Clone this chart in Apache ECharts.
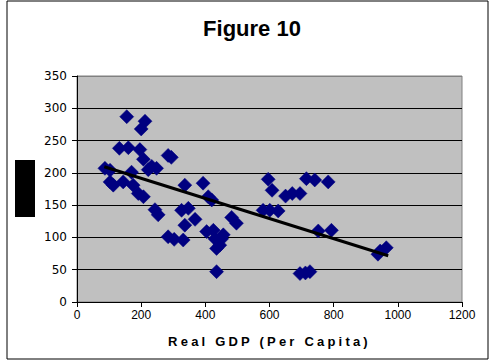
<!DOCTYPE html>
<html>
<head>
<meta charset="utf-8">
<script src="https://cdn.jsdelivr.net/npm/echarts@6/dist/echarts.min.js"></script>
<style>
  html, body { margin: 0; padding: 0; background: #ffffff; }
  #chart { width: 492px; height: 362px; }
</style>
</head>
<body>
<div id="chart"></div>
<script>
// Real GDP per capita (x) against the second indicator (y)
var gdpPerCapita = [
  87, 103, 113, 103, 144, 175, 170, 155, 212, 200,
  132, 160, 196, 207, 222, 248, 233, 191, 207, 243,
  253, 284, 294, 284, 303, 331, 336, 326, 347, 336,
  368, 393, 409, 420, 404, 425, 430, 451, 456, 445,
  435, 435, 482, 497, 596, 608, 580, 601, 627, 650,
  671, 695, 715, 741, 783, 752, 793, 695, 712, 726,
  938, 945, 964
];
var indicator = [
  207, 204, 181, 186, 186, 181, 201, 287, 280, 268,
  238, 239, 236, 221, 205, 207, 210, 168, 163, 143,
  135, 227, 224, 101, 97, 96, 181, 142, 145, 119,
  128, 184, 163, 158, 109, 111, 98, 98, 104, 88,
  83, 47, 131, 122, 190, 173, 142, 142, 141, 164,
  168, 168, 191, 189, 186, 110, 111, 44, 45, 47,
  74, 79, 84
];
// Linear trend line end points
var trendX = [85, 970];
var trendY = [209.5, 71.7];

var xTicks = [0, 200, 400, 600, 800, 1000, 1200];
var yTicks = [0, 50, 100, 150, 200, 250, 300, 350];

var chartTitle = 'Figure 10';
var xAxisTitle = 'Real GDP (Per Capita)';

var points = gdpPerCapita.map(function (x, i) { return [x, indicator[i]]; });
var trend = trendX.map(function (x, i) { return [x, trendY[i]]; });

var splitColors = yTicks.map(function (v, i) {
  return i === yTicks.length - 1 ? '#808080' : '#000000';
});

var chart = echarts.init(document.getElementById('chart'), null, { renderer: 'svg' });

// Spread out the letters of the x-axis title once the SVG is drawn
function spaceAxisTitle() {
  var texts = document.querySelectorAll('#chart svg text');
  for (var i = 0; i < texts.length; i++) {
    if (texts[i].textContent === xAxisTitle) {
      texts[i].setAttribute('letter-spacing', '3.2');
    }
  }
}
chart.on('finished', spaceAxisTitle);

chart.setOption({
  animation: false,
  backgroundColor: '#ffffff',
  graphic: [
    {
      type: 'rect',
      shape: { x: 7, y: 1, width: 481, height: 358 },
      style: { fill: 'none', stroke: '#000000', lineWidth: 1 },
      z: 0,
      silent: true
    },
    {
      type: 'rect',
      shape: { x: 15, y: 160, width: 20, height: 57 },
      style: { fill: '#000000' },
      silent: true
    },
    {
      type: 'text',
      x: 252,
      y: 28,
      style: {
        text: chartTitle,
        align: 'center',
        verticalAlign: 'middle',
        font: 'bold 22px "Liberation Sans", Arial, sans-serif',
        fill: '#000000'
      },
      silent: true
    }
  ],
  grid: {
    left: 77,
    right: 30,
    top: 76,
    bottom: 60,
    show: true,
    backgroundColor: '#c0c0c0',
    borderColor: '#808080',
    borderWidth: 1
  },
  xAxis: {
    type: 'value',
    min: xTicks[0],
    max: xTicks[xTicks.length - 1],
    interval: 200,
    name: xAxisTitle,
    nameLocation: 'middle',
    nameGap: 39,
    nameTextStyle: {
      fontFamily: 'Liberation Sans, Arial, sans-serif',
      fontWeight: 'bold',
      fontSize: 13,
      color: '#000000',
      verticalAlign: 'middle'
    },
    axisLine: { show: true, onZero: false, lineStyle: { color: '#000000', width: 1 } },
    axisTick: { show: true, inside: false, length: 5, lineStyle: { color: '#000000' } },
    axisLabel: {
      margin: 7,
      fontFamily: 'Liberation Sans, Arial, sans-serif',
      fontSize: 12,
      color: '#000000',
      formatter: function (v) { return String(v); }
    },
    splitLine: { show: false }
  },
  yAxis: {
    type: 'value',
    min: yTicks[0],
    max: yTicks[yTicks.length - 1],
    interval: 50,
    axisLine: { show: true, onZero: false, lineStyle: { color: '#000000', width: 1 } },
    axisTick: { show: true, inside: false, length: 5, lineStyle: { color: '#000000' } },
    axisLabel: {
      margin: 10,
      fontFamily: 'DejaVu Sans, sans-serif',
      fontSize: 12,
      color: '#000000',
      formatter: function (v) { return String(v); }
    },
    splitLine: { show: true, lineStyle: { color: splitColors, width: 1 } }
  },
  series: [
    {
      name: 'Observations',
      type: 'scatter',
      data: points,
      symbol: 'diamond',
      symbolSize: 14,
      itemStyle: { color: '#000080', borderColor: '#000080', borderWidth: 0.5, opacity: 1 },
      z: 2
    },
    {
      name: 'Trend',
      type: 'line',
      data: trend,
      symbol: 'none',
      lineStyle: { color: '#000000', width: 3 },
      z: 3
    }
  ]
});
spaceAxisTitle();
</script>
</body>
</html>
